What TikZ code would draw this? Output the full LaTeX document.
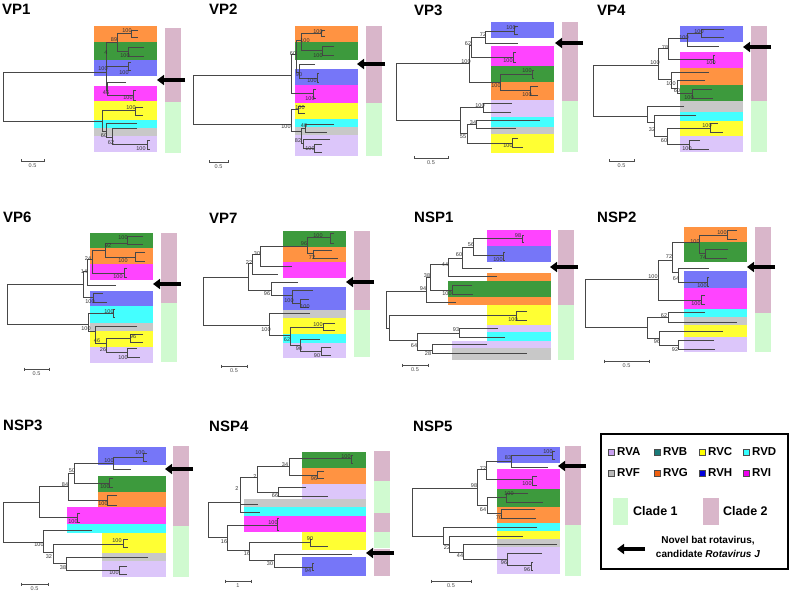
\documentclass[tikz,border=0pt]{standalone}
\usepackage{fontspec}
\setmainfont{Liberation Sans}
\setsansfont{Liberation Sans}
\usepackage{xcolor}
\usetikzlibrary{arrows.meta}
\definecolor{rvOrange}{HTML}{FF9342}
\definecolor{rvGreen}{HTML}{3D9A3D}
\definecolor{rvBlue}{HTML}{7676F8}
\definecolor{rvMagenta}{HTML}{FF44FF}
\definecolor{rvYellow}{HTML}{FFFF33}
\definecolor{rvCyan}{HTML}{44FFFF}
\definecolor{rvGray}{HTML}{C8C8C8}
\definecolor{rvLavender}{HTML}{DCC6FA}
\definecolor{cladeOne}{HTML}{D0FAD0}
\definecolor{cladeTwo}{HTML}{D9B6CA}
\definecolor{keyA}{HTML}{C8A0F0}
\definecolor{keyB}{HTML}{1A7A78}
\definecolor{keyC}{HTML}{FFFF00}
\definecolor{keyD}{HTML}{33FFFF}
\definecolor{keyF}{HTML}{B8B8B8}
\definecolor{keyG}{HTML}{F06010}
\definecolor{keyH}{HTML}{0000DD}
\definecolor{keyI}{HTML}{EE00EE}
\tikzset{
  font=\sffamily,
  branch/.style={draw=black!72, line width=0.55pt},
  novel/.style={-{Triangle[length=7pt,width=10pt]}, draw=black, line width=4pt},
  title/.style={font=\fontsize{15}{15}\selectfont\bfseries, inner sep=0pt, anchor=west},
  boot/.style={font=\fontsize{5.5}{5.5}\selectfont, text=black!80, inner sep=0pt},
  scaleLine/.style={draw=black!70, line width=0.5pt},
  scaleText/.style={font=\fontsize{5.5}{5.5}\selectfont, text=black!70, inner sep=0pt},
  keyText/.style={font=\fontsize{11.5}{12}\selectfont\bfseries, inner sep=0pt, anchor=west},
  cladeText/.style={font=\fontsize{12.5}{13}\selectfont\bfseries, inner sep=0pt, anchor=west},
  noteText/.style={font=\fontsize{10}{10}\selectfont\bfseries, inner sep=0pt}
}
\newcommand{\colorBand}[5]{\fill[#5] (#1,#3) rectangle (#2,#4);}
\newcommand{\cladeBar}[4]{\fill[#4] (#1,#2) rectangle (#1+16,#3);}
\newcommand{\novelArrow}[2]{\draw[novel] (#1+28,#2) -- (#1,#2);}
\newcommand{\treeNode}[5]{\draw[branch] (#2,#3) -| (#1,#5) -- (#4,#5);}
\newcommand{\bootLabel}[3]{\node[boot] at (#1,#2) {#3};}
\newcommand{\scaleBar}[4]{%
  \draw[scaleLine] (#1,#3-1.5) -- (#1,#3+1.5) (#1,#3) -- (#2,#3) (#2,#3-1.5) -- (#2,#3+1.5);
  \node[scaleText] at ({(#1+#2)/2},#3+5) {#4};
}
\newcommand{\legendKey}[4]{%
  \fill[#3, draw=black!70, line width=0.4pt] (#1-3,#2-3) rectangle (#1+3,#2+3);
  \node[keyText] at (#1+6,#2) {#4};
}

\begin{document}
\begin{tikzpicture}[x=1pt,y=-1pt]
\path[fill=white, use as bounding box] (0,0) rectangle (791,593);

% --------------------------------------------------------------------------
% VP1
% --------------------------------------------------------------------------
\node[title] (vp1Title) at (2,9) {VP1};
\colorBand{94}{157}{26}{42}{rvOrange}
\colorBand{94}{157}{42}{60}{rvGreen}
\colorBand{94}{157}{60}{76}{rvBlue}
\colorBand{94}{157}{86}{101}{rvMagenta}
\colorBand{94}{157}{101}{120}{rvYellow}
\colorBand{94}{157}{120}{128}{rvCyan}
\colorBand{94}{157}{128}{136}{rvGray}
\colorBand{94}{157}{136}{152}{rvLavender}
\cladeBar{165}{28}{102}{cladeTwo}
\cladeBar{165}{102}{153}{cladeOne}
\novelArrow{157}{80}
\treeNode{3}{106}{72}{102}{121}
\treeNode{106}{117}{42}{107}{90}
\draw[branch] (106,66) -- (128,66);
\treeNode{117}{131}{33}{128}{51}
\treeNode{131}{138}{30}{138}{37}
\treeNode{128}{144}{47}{144}{56}
\treeNode{128}{131}{62}{131}{70}
\treeNode{107}{126}{82}{133}{95}
\treeNode{133}{136}{90}{136}{100}
\treeNode{102}{135}{110}{106}{131}
\treeNode{135}{143}{107}{143}{115}
\treeNode{106}{137}{123}{112}{137}
\treeNode{112}{137}{128}{147}{144}
\treeNode{147}{150}{140}{150}{149}
\bootLabel{127}{31}{100}
\bootLabel{114}{40}{89}
\bootLabel{106}{53}{4}
\bootLabel{125}{56}{100}
\bootLabel{103}{69}{100}
\bootLabel{124}{73}{100}
\bootLabel{106}{93}{46}
\bootLabel{128}{98}{100}
\bootLabel{131}{108}{100}
\bootLabel{104}{136}{60}
\bootLabel{111}{143}{62}
\bootLabel{141}{149}{100}
\scaleBar{21}{44}{161}{0.5}

% --------------------------------------------------------------------------
% VP2
% --------------------------------------------------------------------------
\node[title] (vp2Title) at (209,9) {VP2};
\colorBand{295}{358}{26}{42}{rvOrange}
\colorBand{295}{358}{42}{60}{rvGreen}
\colorBand{295}{358}{69}{85}{rvBlue}
\colorBand{295}{358}{85}{103}{rvMagenta}
\colorBand{295}{358}{103}{119}{rvYellow}
\colorBand{295}{358}{119}{127}{rvCyan}
\colorBand{295}{358}{127}{135}{rvGray}
\colorBand{295}{358}{135}{156}{rvLavender}
\cladeBar{366}{26}{103}{cladeTwo}
\cladeBar{366}{103}{156}{cladeOne}
\novelArrow{357}{64}
\treeNode{193}{291}{75}{291}{124}
\treeNode{291}{296}{54}{313}{93}
\treeNode{313}{316}{89}{316}{98}
\treeNode{296}{301}{40}{299}{72}
\treeNode{301}{321}{33}{322}{50}
\treeNode{321}{325}{30}{325}{36}
\treeNode{322}{334}{46}{334}{55}
\treeNode{299}{315}{64}{317}{78}
\treeNode{317}{319}{73}{319}{82}
\treeNode{291}{298}{109}{301}{131}
\treeNode{298}{305}{106}{305}{113}
\treeNode{301}{305}{128}{303}{143}
\treeNode{305}{334}{124}{327}{132}
\treeNode{303}{330}{139}{314}{148}
\treeNode{314}{322}{144}{322}{152}
\bootLabel{318}{32}{100}
\bootLabel{305}{41}{100}
\bootLabel{293}{54}{60}
\bootLabel{318}{56}{100}
\bootLabel{299}{75}{90}
\bootLabel{312}{81}{100}
\bootLabel{310}{99}{100}
\bootLabel{300}{108}{100}
\bootLabel{304}{126}{40}
\bootLabel{286}{127}{100}
\bootLabel{298}{141}{82}
\bootLabel{310}{149}{100}
\scaleBar{209}{228}{162}{0.5}

% --------------------------------------------------------------------------
% VP3
% --------------------------------------------------------------------------
\node[title] (vp3Title) at (414,10) {VP3};
\colorBand{491}{554}{22}{38}{rvBlue}
\colorBand{491}{554}{46}{66}{rvMagenta}
\colorBand{491}{554}{66}{82}{rvGreen}
\colorBand{491}{554}{82}{100}{rvOrange}
\colorBand{491}{554}{100}{117}{rvLavender}
\colorBand{491}{554}{117}{127}{rvCyan}
\colorBand{491}{554}{127}{134}{rvGray}
\colorBand{491}{554}{134}{153}{rvYellow}
\cladeBar{562}{22}{101}{cladeTwo}
\cladeBar{562}{101}{152}{cladeOne}
\novelArrow{555}{43}
\treeNode{396}{469}{63}{460}{120}
\treeNode{469}{471}{45}{500}{82}
\treeNode{471}{485}{37}{513}{57}
\treeNode{513}{516}{52}{516}{62}
\treeNode{485}{514}{31}{518}{43}
\treeNode{514}{518}{26}{518}{34}
\treeNode{500}{532}{74}{530}{90}
\treeNode{532}{534}{70}{534}{78}
\treeNode{530}{538}{86}{538}{95}
\treeNode{460}{483}{107}{467}{133}
\treeNode{483}{512}{103}{511}{112}
\treeNode{467}{476}{124}{512}{143}
\treeNode{476}{540}{120}{516}{128}
\treeNode{512}{518}{138}{523}{147}
\bootLabel{511}{28}{100}
\bootLabel{483}{35}{72}
\bootLabel{468}{44}{62}
\bootLabel{508}{61}{100}
\bootLabel{466}{62}{100}
\bootLabel{527}{71}{100}
\bootLabel{496}{86}{100}
\bootLabel{527}{95}{100}
\bootLabel{480}{106}{100}
\bootLabel{473}{123}{34}
\bootLabel{463}{137}{55}
\bootLabel{508}{146}{100}
\scaleBar{414}{448}{158}{0.5}

% --------------------------------------------------------------------------
% VP4
% --------------------------------------------------------------------------
\node[title] (vp4Title) at (597,10) {VP4};
\colorBand{680}{743}{26}{42}{rvBlue}
\colorBand{680}{743}{52}{68}{rvMagenta}
\colorBand{680}{743}{68}{85}{rvOrange}
\colorBand{680}{743}{85}{101}{rvGreen}
\colorBand{680}{743}{101}{112}{rvGray}
\colorBand{680}{743}{112}{121}{rvCyan}
\colorBand{680}{743}{121}{136}{rvYellow}
\colorBand{680}{743}{136}{152}{rvLavender}
\cladeBar{751}{26}{101}{cladeTwo}
\cladeBar{751}{101}{152}{cladeOne}
\novelArrow{743}{47}
\treeNode{593}{658}{65}{647}{116}
\treeNode{658}{668}{48}{671}{79}
\treeNode{668}{687}{38}{713}{59}
\treeNode{713}{715}{55}{715}{63}
\treeNode{687}{701}{33}{719}{46}
\treeNode{701}{724}{29}{724}{37}
\treeNode{671}{709}{72}{677}{88}
\treeNode{677}{705}{80}{692}{93}
\treeNode{692}{712}{89}{713}{98}
\treeNode{647}{684}{106}{654}{122}
\treeNode{654}{696}{115}{667}{136}
\treeNode{667}{710}{128}{689}{144}
\treeNode{710}{718}{123}{723}{132}
\treeNode{689}{700}{140}{709}{149}
\bootLabel{699}{32}{100}
\bootLabel{684}{38}{100}
\bootLabel{665}{48}{78}
\bootLabel{711}{63}{100}
\bootLabel{655}{63}{100}
\bootLabel{671}{84}{100}
\bootLabel{677}{91}{60}
\bootLabel{689}{98}{100}
\bootLabel{707}{126}{100}
\bootLabel{652}{130}{32}
\bootLabel{664}{141}{60}
\bootLabel{687}{149}{100}
\scaleBar{609}{634}{161}{0.5}

% --------------------------------------------------------------------------
% VP6
% --------------------------------------------------------------------------
\node[title] (vp6Title) at (3,217) {VP6};
\colorBand{90}{153}{233}{248}{rvGreen}
\colorBand{90}{153}{248}{264}{rvOrange}
\colorBand{90}{153}{264}{280}{rvMagenta}
\colorBand{90}{153}{291}{306}{rvBlue}
\colorBand{90}{153}{306}{323}{rvCyan}
\colorBand{90}{153}{323}{331}{rvGray}
\colorBand{90}{153}{331}{347}{rvYellow}
\colorBand{90}{153}{347}{363}{rvLavender}
\cladeBar{161}{233}{303}{cladeTwo}
\cladeBar{161}{303}{362}{cladeOne}
\novelArrow{153}{284}
\treeNode{7}{83}{284}{88}{324}
\treeNode{83}{87}{271}{93}{297}
\treeNode{93}{103}{293}{107}{302}
\treeNode{87}{92}{259}{116}{285}
\treeNode{92}{105}{250}{124}{273}
\treeNode{124}{127}{268}{127}{277}
\treeNode{105}{127}{243}{135}{257}
\treeNode{127}{143}{236}{143}{244}
\treeNode{135}{145}{252}{145}{261}
\treeNode{88}{113}{313}{95}{331}
\treeNode{113}{115}{309}{115}{317}
\treeNode{95}{137}{326}{106}{343}
\treeNode{106}{130}{338}{127}{352}
\treeNode{130}{143}{334}{143}{342}
\treeNode{127}{137}{348}{140}{357}
\bootLabel{123}{238}{100}
\bootLabel{108}{246}{92}
\bootLabel{88}{259}{24}
\bootLabel{123}{261}{100}
\bootLabel{84}{272}{14}
\bootLabel{118}{277}{100}
\bootLabel{90}{302}{100}
\bootLabel{109}{312}{100}
\bootLabel{86}{329}{100}
\bootLabel{133}{337}{96}
\bootLabel{97}{341}{46}
\bootLabel{103}{350}{26}
\bootLabel{123}{358}{100}
\scaleBar{24}{49}{369}{0.5}

% --------------------------------------------------------------------------
% VP7
% --------------------------------------------------------------------------
\node[title] (vp7Title) at (209,218) {VP7};
\colorBand{283}{346}{231}{247}{rvGreen}
\colorBand{283}{346}{247}{262}{rvOrange}
\colorBand{283}{346}{262}{278}{rvMagenta}
\colorBand{283}{346}{287}{310}{rvBlue}
\colorBand{283}{346}{310}{318}{rvGray}
\colorBand{283}{346}{318}{334}{rvYellow}
\colorBand{283}{346}{334}{343}{rvCyan}
\colorBand{283}{346}{343}{358}{rvLavender}
\cladeBar{354}{231}{310}{cladeTwo}
\cladeBar{354}{310}{357}{cladeOne}
\novelArrow{346}{282}
\treeNode{203}{248}{277}{269}{325}
\treeNode{248}{252}{263}{271}{290}
\treeNode{252}{260}{254}{278}{274}
\treeNode{260}{307}{246}{292}{266}
\treeNode{307}{330}{237}{313}{253}
\treeNode{330}{334}{233}{334}{243}
\treeNode{313}{332}{250}{338}{258}
\treeNode{271}{298}{282}{292}{295}
\treeNode{292}{313}{290}{300}{303}
\treeNode{300}{309}{299}{309}{307}
\treeNode{269}{310}{313}{290}{335}
\treeNode{290}{323}{327}{300}{345}
\treeNode{323}{335}{323}{335}{330}
\treeNode{300}{320}{339}{321}{351}
\treeNode{321}{331}{347}{331}{355}
\bootLabel{318}{236}{100}
\bootLabel{304}{244}{96}
\bootLabel{257}{254}{30}
\bootLabel{312}{258}{72}
\bootLabel{249}{263}{22}
\bootLabel{267}{294}{96}
\bootLabel{289}{301}{100}
\bootLabel{305}{307}{100}
\bootLabel{318}{325}{100}
\bootLabel{266}{330}{100}
\bootLabel{287}{340}{62}
\bootLabel{299}{349}{90}
\bootLabel{317}{356}{90}
\scaleBar{221}{247}{366}{0.5}

% --------------------------------------------------------------------------
% NSP1
% --------------------------------------------------------------------------
\node[title] (nsp1Title) at (414,217) {NSP1};
\colorBand{487}{551}{230}{246}{rvMagenta}
\colorBand{487}{551}{246}{262}{rvBlue}
\colorBand{487}{551}{273}{281}{rvOrange}
\colorBand{448}{551}{281}{297}{rvGreen}
\colorBand{448}{551}{297}{305}{rvOrange}
\colorBand{487}{551}{305}{325}{rvYellow}
\colorBand{487}{551}{325}{332}{rvLavender}
\colorBand{487}{551}{332}{341}{rvCyan}
\colorBand{452}{551}{341}{348}{rvLavender}
\colorBand{452}{551}{348}{360}{rvGray}
\cladeBar{558}{230}{305}{cladeTwo}
\cladeBar{558}{305}{360}{cladeOne}
\novelArrow{550}{267}
\treeNode{386}{426}{291}{389}{328}
\treeNode{389}{516}{315}{417}{340}
\treeNode{516}{527}{311}{527}{320}
\treeNode{426}{430}{277}{456}{302}
\treeNode{430}{448}{264}{452}{290}
\treeNode{452}{472}{285}{473}{294}
\treeNode{448}{462}{258}{497}{276}
\treeNode{462}{473}{247}{492}{268}
\treeNode{473}{522}{238}{503}{255}
\treeNode{522}{524}{235}{524}{242}
\treeNode{503}{505}{252}{505}{260}
\treeNode{417}{459}{333}{432}{350}
\treeNode{459}{498}{328}{505}{337}
\treeNode{432}{487}{344}{527}{353}
\bootLabel{518}{236}{98}
\bootLabel{471}{245}{56}
\bootLabel{459}{255}{60}
\bootLabel{498}{260}{100}
\bootLabel{445}{265}{44}
\bootLabel{427}{276}{38}
\bootLabel{423}{289}{94}
\bootLabel{447}{294}{100}
\bootLabel{513}{320}{100}
\bootLabel{456}{330}{93}
\bootLabel{414}{346}{64}
\bootLabel{428}{354}{28}
\scaleBar{402}{428}{365}{0.5}

% --------------------------------------------------------------------------
% NSP2
% --------------------------------------------------------------------------
\node[title] (nsp2Title) at (597,217) {NSP2};
\colorBand{684}{747}{227}{242}{rvOrange}
\colorBand{684}{747}{242}{262}{rvGreen}
\colorBand{684}{747}{271}{288}{rvBlue}
\colorBand{684}{747}{288}{309}{rvMagenta}
\colorBand{684}{747}{309}{317}{rvCyan}
\colorBand{684}{747}{317}{325}{rvGray}
\colorBand{684}{747}{325}{337}{rvYellow}
\colorBand{684}{747}{337}{352}{rvLavender}
\cladeBar{755}{227}{313}{cladeTwo}
\cladeBar{755}{313}{352}{cladeOne}
\novelArrow{747}{267}
\treeNode{585}{658}{279}{647}{327}
\treeNode{658}{672}{260}{701}{300}
\treeNode{701}{705}{295}{705}{304}
\treeNode{672}{699}{242}{678}{272}
\treeNode{699}{727}{235}{705}{253}
\treeNode{727}{737}{230}{737}{239}
\treeNode{705}{728}{249}{727}{258}
\treeNode{678}{709}{268}{707}{282}
\treeNode{707}{709}{277}{709}{286}
\treeNode{647}{668}{317}{659}{338}
\treeNode{668}{705}{312}{737}{322}
\treeNode{659}{723}{331}{678}{345}
\treeNode{678}{714}{340}{715}{349}
\bootLabel{722}{233}{100}
\bootLabel{695}{242}{100}
\bootLabel{669}{257}{72}
\bootLabel{703}{258}{74}
\bootLabel{653}{277}{100}
\bootLabel{676}{279}{64}
\bootLabel{702}{286}{100}
\bootLabel{696}{304}{100}
\bootLabel{664}{316}{62}
\bootLabel{657}{342}{96}
\bootLabel{675}{350}{92}
\scaleBar{604}{649}{361}{0.5}

% --------------------------------------------------------------------------
% NSP3
% --------------------------------------------------------------------------
\node[title] (nsp3Title) at (3,425) {NSP3};
\colorBand{98}{166}{447}{465}{rvBlue}
\colorBand{98}{166}{476}{492}{rvGreen}
\colorBand{98}{166}{492}{507}{rvOrange}
\colorBand{67}{166}{507}{524}{rvMagenta}
\colorBand{67}{166}{524}{533}{rvCyan}
\colorBand{102}{166}{533}{553}{rvYellow}
\colorBand{102}{166}{553}{561}{rvGray}
\colorBand{102}{166}{561}{577}{rvLavender}
\cladeBar{173}{446}{526}{cladeTwo}
\cladeBar{173}{526}{577}{cladeOne}
\novelArrow{165}{469}
\treeNode{3}{39}{502}{43}{542}
\treeNode{39}{68}{486}{77}{517}
\treeNode{77}{80}{513}{80}{522}
\treeNode{68}{74}{473}{107}{500}
\treeNode{107}{117}{495}{117}{505}
\treeNode{74}{113}{463}{109}{483}
\treeNode{109}{113}{478}{113}{487}
\treeNode{113}{143}{457}{131}{469}
\treeNode{143}{147}{453}{147}{461}
\treeNode{43}{92}{530}{53}{552}
\treeNode{53}{123}{544}{66}{563}
\treeNode{123}{128}{539}{128}{547}
\treeNode{66}{148}{557}{119}{570}
\treeNode{119}{127}{566}{127}{574}
\bootLabel{140}{453}{100}
\bootLabel{109}{461}{100}
\bootLabel{72}{471}{50}
\bootLabel{65}{485}{84}
\bootLabel{105}{487}{100}
\bootLabel{103}{504}{100}
\bootLabel{73}{522}{100}
\bootLabel{117}{541}{100}
\bootLabel{39}{545}{100}
\bootLabel{49}{557}{32}
\bootLabel{63}{568}{38}
\bootLabel{114}{573}{100}
\scaleBar{21}{48}{584}{0.5}

% --------------------------------------------------------------------------
% NSP4
% --------------------------------------------------------------------------
\node[title] (nsp4Title) at (209,426) {NSP4};
\colorBand{302}{366}{452}{468}{rvGreen}
\colorBand{302}{366}{468}{484}{rvOrange}
\colorBand{302}{366}{484}{499}{rvLavender}
\colorBand{244}{366}{499}{507}{rvGray}
\colorBand{244}{366}{507}{516}{rvCyan}
\colorBand{244}{366}{516}{532}{rvMagenta}
\colorBand{302}{366}{532}{550}{rvYellow}
\colorBand{302}{366}{557}{576}{rvBlue}
\cladeBar{374}{451}{481}{cladeTwo}
\cladeBar{374}{481}{513}{cladeOne}
\cladeBar{374}{513}{532}{cladeTwo}
\cladeBar{374}{532}{548}{cladeOne}
\cladeBar{374}{549}{576}{cladeTwo}
\novelArrow{366}{553}
\treeNode{208}{240}{502}{227}{537}
\treeNode{240}{257}{477}{260}{512}
\draw[branch] (240,504) -- (258,504);
\treeNode{257}{289}{466}{278}{492}
\treeNode{289}{351}{458}{317}{475}
\treeNode{351}{353}{455}{353}{463}
\treeNode{317}{324}{471}{324}{478}
\treeNode{278}{306}{487}{328}{496}
\treeNode{227}{277}{525}{249}{550}
\treeNode{277}{279}{518}{279}{530}
\treeNode{249}{310}{542}{274}{560}
\treeNode{310}{312}{539}{328}{546}
\treeNode{274}{352}{554}{312}{567}
\treeNode{312}{314}{563}{314}{570}
\bootLabel{346}{457}{100}
\bootLabel{285}{465}{34}
\bootLabel{255}{477}{2}
\bootLabel{314}{479}{96}
\bootLabel{237}{489}{2}
\bootLabel{275}{496}{66}
\bootLabel{273}{523}{100}
\bootLabel{310}{539}{90}
\bootLabel{224}{542}{16}
\bootLabel{247}{554}{16}
\bootLabel{270}{564}{30}
\bootLabel{308}{571}{94}
\scaleBar{225}{251}{581}{1}

% --------------------------------------------------------------------------
% NSP5
% --------------------------------------------------------------------------
\node[title] (nsp5Title) at (413,426) {NSP5};
\colorBand{497}{560}{447}{463}{rvBlue}
\colorBand{497}{560}{469}{489}{rvMagenta}
\colorBand{497}{560}{489}{507}{rvGreen}
\colorBand{497}{560}{507}{523}{rvOrange}
\colorBand{497}{560}{523}{531}{rvCyan}
\colorBand{497}{560}{531}{539}{rvYellow}
\colorBand{497}{560}{539}{547}{rvGray}
\colorBand{497}{560}{547}{574}{rvLavender}
\cladeBar{565}{446}{525}{cladeTwo}
\cladeBar{565}{525}{576}{cladeOne}
\novelArrow{558}{466}
\treeNode{412}{477}{488}{443}{536}
\treeNode{477}{486}{469}{487}{505}
\treeNode{486}{511}{461}{532}{479}
\treeNode{532}{537}{476}{537}{485}
\treeNode{511}{552}{455}{548}{467}
\treeNode{552}{555}{451}{555}{459}
\treeNode{487}{506}{497}{501}{513}
\treeNode{506}{528}{493}{543}{502}
\treeNode{501}{535}{509}{536}{518}
\treeNode{443}{537}{527}{449}{544}
\treeNode{449}{523}{536}{463}{552}
\treeNode{463}{557}{544}{507}{559}
\treeNode{507}{542}{553}{531}{565}
\treeNode{531}{533}{562}{533}{570}
\bootLabel{548}{452}{100}
\bootLabel{508}{458}{83}
\bootLabel{483}{469}{72}
\bootLabel{527}{484}{100}
\bootLabel{474}{486}{98}
\bootLabel{509}{494}{100}
\bootLabel{483}{510}{64}
\bootLabel{499}{518}{70}
\bootLabel{447}{548}{22}
\bootLabel{460}{556}{44}
\bootLabel{504}{563}{96}
\bootLabel{527}{570}{96}
\scaleBar{431}{471}{581}{0.5}

% --------------------------------------------------------------------------
% Legend
% --------------------------------------------------------------------------
\draw[line width=1.2pt] (601,434) rectangle (788,569);
\legendKey{611}{452}{keyA}{RVA}
\legendKey{657}{452}{keyB}{RVB}
\legendKey{702}{452}{keyC}{RVC}
\legendKey{746}{452}{keyD}{RVD}
\legendKey{611}{473}{keyF}{RVF}
\legendKey{657}{473}{keyG}{RVG}
\legendKey{702}{473}{keyH}{RVH}
\legendKey{746}{473}{keyI}{RVI}
\fill[cladeOne] (613,498) rectangle (628,525);
\node[cladeText] (cladeOneText) at (633,511) {Clade 1};
\fill[cladeTwo] (703,498) rectangle (719,525);
\node[cladeText] (cladeTwoText) at (723,511) {Clade 2};
\novelArrow{617}{549}
\node[noteText] (noteOne) at (708,541) {Novel bat rotavirus,};
\node[noteText] (noteTwo) at (708,554) {candidate \textit{Rotavirus J}};

\end{tikzpicture}
\end{document}
